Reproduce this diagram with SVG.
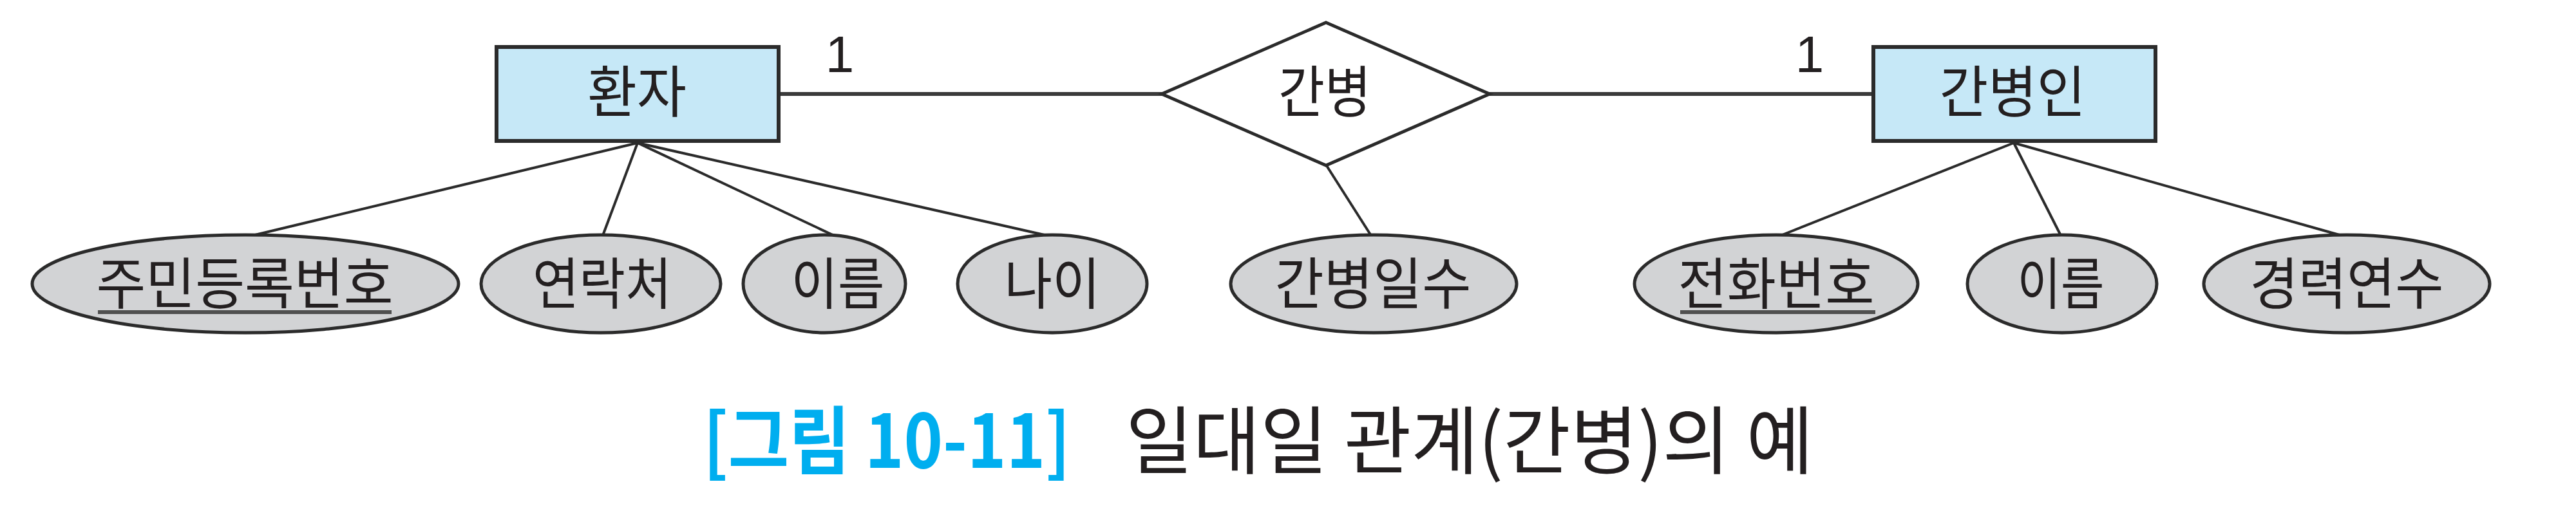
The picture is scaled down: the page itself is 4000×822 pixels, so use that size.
<svg xmlns="http://www.w3.org/2000/svg" width="4000" height="822" viewBox="0 0 4000 822">
<style>
.ent{fill:#c6e8f7;stroke:#2b2b2b;stroke-width:6}
.rel{fill:#ffffff;stroke:#2b2b2b;stroke-width:5}
.att{fill:#d2d3d5;stroke:#2b2b2b;stroke-width:5}
.ln{stroke:#2b2b2b;stroke-width:4;fill:none}
.hl{stroke:#3a3a3a;stroke-width:6;fill:none}
.lbl{font-family:"Noto Sans CJK KR","Noto Sans",sans-serif;font-size:87px;fill:#231f20;text-anchor:middle}
.card{font-family:"Liberation Sans",Arial,sans-serif;font-size:80px;fill:#231f20;text-anchor:middle}
.ul{stroke:#505050;stroke-width:6}
.cap{font-family:"Noto Sans CJK KR","Noto Sans",sans-serif;font-size:115px}
</style>
<rect width="4000" height="822" fill="#ffffff"/>
<g id="connectors">
<line class="hl" x1="1212" y1="146" x2="1806" y2="146"/>
<line class="hl" x1="2311" y1="146" x2="2906" y2="146"/>
<line class="ln" x1="990" y1="222" x2="392" y2="366"/>
<line class="ln" x1="990" y1="222" x2="936" y2="366"/>
<line class="ln" x1="990" y1="222" x2="1295" y2="366"/>
<line class="ln" x1="990" y1="222" x2="1626" y2="366"/>
<line class="ln" x1="2059" y1="256" x2="2129" y2="366"/>
<line class="ln" x1="3127" y1="222" x2="2765" y2="366"/>
<line class="ln" x1="3127" y1="222" x2="3200" y2="366"/>
<line class="ln" x1="3127" y1="222" x2="3636" y2="366"/>
<text class="card" x="1304" y="112">1</text>
<text class="card" x="2810" y="112">1</text>
</g>
<g id="patient">
<rect class="ent" x="771" y="73" width="438" height="146"/>
<text class="lbl" x="989" y="175" textLength="154" lengthAdjust="spacingAndGlyphs">환자</text>
</g>
<g id="nursing">
<polygon class="rel" points="2059,35 2313,146 2059,257 1804,146"/>
<text class="lbl" x="2057" y="175" textLength="144" lengthAdjust="spacingAndGlyphs">간병</text>
</g>
<g id="caregiver">
<rect class="ent" x="2909" y="73" width="438" height="146"/>
<text class="lbl" x="3125" y="175" textLength="227" lengthAdjust="spacingAndGlyphs">간병인</text>
</g>
<g id="rrn">
<ellipse class="att" cx="381" cy="441" rx="331" ry="76"/>
<text class="lbl" x="380" y="473" textLength="461" lengthAdjust="spacingAndGlyphs">주민등록번호</text>
<line class="ul" x1="152" y1="485" x2="608" y2="485"/>
</g>
<g id="contact">
<ellipse class="att" cx="933" cy="441" rx="186" ry="76"/>
<text class="lbl" x="935" y="473" textLength="216" lengthAdjust="spacingAndGlyphs">연락처</text>
</g>
<g id="pname">
<ellipse class="att" cx="1280" cy="441" rx="126" ry="76"/>
<text class="lbl" x="1301" y="473" textLength="145" lengthAdjust="spacingAndGlyphs">이름</text>
</g>
<g id="age">
<ellipse class="att" cx="1634" cy="441" rx="147" ry="76"/>
<text class="lbl" x="1634" y="473" textLength="149" lengthAdjust="spacingAndGlyphs">나이</text>
</g>
<g id="days">
<ellipse class="att" cx="2133" cy="441" rx="222" ry="76"/>
<text class="lbl" x="2132" y="473" textLength="305" lengthAdjust="spacingAndGlyphs">간병일수</text>
</g>
<g id="phone">
<ellipse class="att" cx="2758" cy="441" rx="220" ry="76"/>
<text class="lbl" x="2758" y="473" textLength="305" lengthAdjust="spacingAndGlyphs">전화번호</text>
<line class="ul" x1="2609" y1="485" x2="2912" y2="485"/>
</g>
<g id="cname">
<ellipse class="att" cx="3202" cy="441" rx="147" ry="76"/>
<text class="lbl" x="3200" y="473" textLength="135" lengthAdjust="spacingAndGlyphs">이름</text>
</g>
<g id="career">
<ellipse class="att" cx="3644" cy="441" rx="222" ry="76"/>
<text class="lbl" x="3644" y="473" textLength="301" lengthAdjust="spacingAndGlyphs">경력연수</text>
</g>
<g id="caption">
<text class="cap" x="1092" y="727" fill="#00aeef" font-weight="bold" textLength="570" lengthAdjust="spacingAndGlyphs">[그림 10-11]</text>
<text class="cap" x="1748" y="727" fill="#231f20" textLength="1068" lengthAdjust="spacingAndGlyphs">일대일 관계(간병)의 예</text>
</g>
</svg>
